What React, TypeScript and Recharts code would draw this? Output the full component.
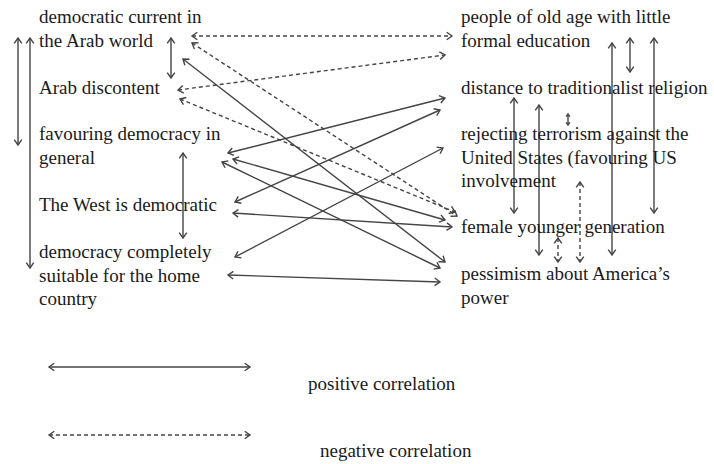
import React from "react";
import { ScatterChart, Scatter, XAxis, YAxis, ReferenceLine } from "recharts";

// Node labels (x, baseline y of first line, in chart units)
const leftNodes = [
  { x: 39, y: 23, lines: ["democratic current in", "the Arab world"] },
  { x: 39, y: 94, lines: ["Arab discontent"] },
  { x: 39, y: 140, lines: ["favouring democracy in", "general"] },
  { x: 39, y: 211, lines: ["The West is democratic"] },
  { x: 39, y: 258, lines: ["democracy completely", "suitable for the home", "country"] },
];
const rightNodes = [
  { x: 461, y: 23, lines: ["people of old age with little", "formal education"] },
  { x: 461, y: 94, lines: ["distance to traditionalist religion"] },
  { x: 461, y: 140, lines: ["rejecting terrorism against the", "United States (favouring US", "involvement"] },
  { x: 461, y: 233, lines: ["female younger generation"] },
  { x: 461, y: 280, lines: ["pessimism about America\u2019s", "power"] },
];
const legendLabels = [
  { x: 308, y: 390, lines: ["positive correlation"] },
  { x: 320, y: 457, lines: ["negative correlation"] },
];

// Correlation arrows: [x1, y1, x2, y2]
const negativeLinks = [
  [192, 36, 452, 36],
  [192, 43, 457, 216],
  [178, 90, 445, 55],
  [180, 99, 455, 212],
  [580, 182, 580, 262],
  [558, 238, 558, 262],
];
const positiveLinks = [
  [183, 59, 445, 262],
  [228, 153, 445, 98],
  [235, 202, 440, 110],
  [235, 257, 443, 148],
  [233, 159, 445, 220],
  [222, 162, 440, 268],
  [233, 213, 452, 227],
  [228, 275, 440, 282],
  [18, 38, 18, 145],
  [30, 38, 30, 268],
  [171, 38, 171, 78],
  [183, 153, 183, 238],
  [630, 38, 630, 72],
  [612, 43, 612, 255],
  [654, 38, 654, 213],
  [514, 98, 514, 213],
  [539, 105, 539, 255],
  [568, 114, 568, 125],
];
const legendPositive = [[49, 367, 250, 367]];
const legendNegative = [[49, 435, 250, 435]];

const STROKE = "#444444";
const FONT = "'Liberation Serif', 'Times New Roman', serif";

const makeArrow = (dashed: boolean) => (p: any) => {
  const { x1, y1, x2, y2 } = p;
  const a = Math.atan2(y2 - y1, x2 - x1);
  const len = Math.hypot(x2 - x1, y2 - y1);
  const L = Math.min(6.5, len * 0.3);
  const w = 0.62;
  const endHead = `M${x2 - L * Math.cos(a - w)},${y2 - L * Math.sin(a - w)} L${x2},${y2} L${x2 - L * Math.cos(a + w)},${y2 - L * Math.sin(a + w)}`;
  const startHead = `M${x1 + L * Math.cos(a - w)},${y1 + L * Math.sin(a - w)} L${x1},${y1} L${x1 + L * Math.cos(a + w)},${y1 + L * Math.sin(a + w)}`;
  return (
    <g>
      <line x1={x1} y1={y1} x2={x2} y2={y2} stroke={STROKE} strokeWidth={1.4} strokeDasharray={dashed ? "4 3" : undefined} />
      <path d={startHead + " " + endHead} fill="none" stroke={STROKE} strokeWidth={1.4} />
    </g>
  );
};

const LabelShape = (p: any) => {
  const { cx, cy, payload } = p;
  return (
    <text x={cx} y={cy} fill="#1a1a1a" fontFamily={FONT} fontSize={19}>
      {payload.lines.map((l: string, i: number) => (
        <tspan key={i} x={cx} dy={i === 0 ? 0 : 23.5}>
          {l}
        </tspan>
      ))}
    </text>
  );
};

export default function App() {
  const allLinks = [
    ...negativeLinks.map((l) => ({ l, dashed: true })),
    ...positiveLinks.map((l) => ({ l, dashed: false })),
    ...legendPositive.map((l) => ({ l, dashed: false })),
    ...legendNegative.map((l) => ({ l, dashed: true })),
  ];
  return (
    <div style={{ width: 714, height: 464, background: "#fff" }}>
      <style>{"body{margin:0}"}</style>
      <ScatterChart width={714} height={464} margin={{ top: 0, right: 0, bottom: 0, left: 0 }}>
        <XAxis type="number" dataKey="x" domain={[0, 714]} hide allowDataOverflow />
        <YAxis type="number" dataKey="y" domain={[0, 464]} reversed hide allowDataOverflow />
        {allLinks.map(({ l, dashed }, i) => (
          <ReferenceLine
            key={i}
            segment={[
              { x: l[0], y: l[1] },
              { x: l[2], y: l[3] },
            ]}
            ifOverflow="visible"
            shape={makeArrow(dashed)}
          />
        ))}
        <Scatter data={[...leftNodes, ...rightNodes, ...legendLabels]} shape={LabelShape} isAnimationActive={false} />
      </ScatterChart>
    </div>
  );
}
